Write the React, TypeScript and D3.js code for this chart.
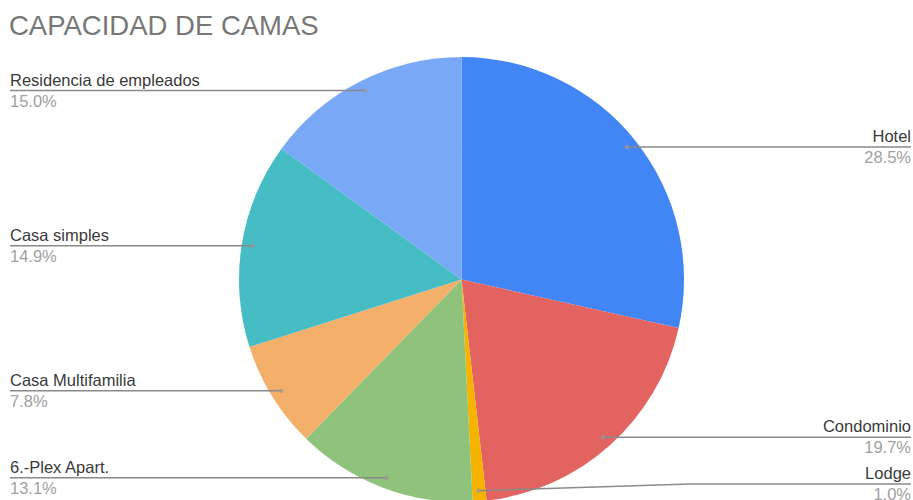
import React from "react";
import * as d3 from "d3";

const categories = [
  "Hotel",
  "Condominio",
  "Lodge",
  "6.-Plex Apart.",
  "Casa Multifamilia",
  "Casa simples",
  "Residencia de empleados",
];
const values = [28.5, 19.7, 1.0, 13.1, 7.8, 14.9, 15.0];
const colors = ["#4286F5", "#E2635F", "#F6B400", "#8FC37C", "#F4B06B", "#46BCC5", "#79A9F6"];
const title = "CAPACIDAD DE CAMAS";

const W = 913;
const H = 500;
const cx = 461.5;
const cy = 279.5;
const R = 222.5;
const dotR = 212;

export default function App() {
  const pie = d3
    .pie<number>()
    .sort(null)
    .value((d) => d)
    .startAngle(0)
    .endAngle(2 * Math.PI);
  const arcs = pie(values);
  const arc = d3.arc<d3.PieArcDatum<number>>().innerRadius(0).outerRadius(R);
  const total = d3.sum(values);
  const fmt = d3.format(".1%");
  const font = "'Liberation Sans', Arial, sans-serif";

  return (
    <svg
      width={W}
      height={H}
      style={{ position: "absolute", left: 0, top: 0, background: "#fff" }}
    >
      <text x={9} y={35} fontFamily={font} fontSize={27.5} fill="#777777">
        {title}
      </text>
      <g transform={`translate(${cx},${cy})`}>
        {arcs.map((a, i) => (
          <path key={i} d={arc(a) || ""} fill={colors[i]} />
        ))}
      </g>
      {arcs.map((a, i) => {
        const mid = (a.startAngle + a.endAngle) / 2;
        const dx = cx + dotR * Math.sin(mid);
        const dy = cy - dotR * Math.cos(mid);
        const right = mid < Math.PI;
        const ly = Math.min(dy, H - 16);
        const edgeX = right ? W - 2 : 10;
        const bendX = right ? cx + R + 6 : cx - R - 6;
        const pts: [number, number][] =
          Math.abs(ly - dy) > 0.5
            ? [
                [dx, dy],
                [bendX, ly],
                [edgeX, ly],
              ]
            : [
                [dx, dy],
                [edgeX, ly],
              ];
        const line = d3.line()(pts) || "";
        return (
          <g key={i}>
            <path d={line} stroke="#8a8a8a" strokeWidth={1.5} fill="none" />
            <circle cx={dx} cy={dy} r={2.2} fill="#9a9a9a" opacity={0.8} />
            <text
              x={edgeX}
              y={ly - 5}
              textAnchor={right ? "end" : "start"}
              fontFamily={font}
              fontSize={16.5}
              fill="#3a3a3a"
            >
              {categories[i]}
            </text>
            <text
              x={edgeX}
              y={ly + 16}
              textAnchor={right ? "end" : "start"}
              fontFamily={font}
              fontSize={16.5}
              fill="#a0a0a0"
            >
              {fmt(values[i] / total)}
            </text>
          </g>
        );
      })}
    </svg>
  );
}
